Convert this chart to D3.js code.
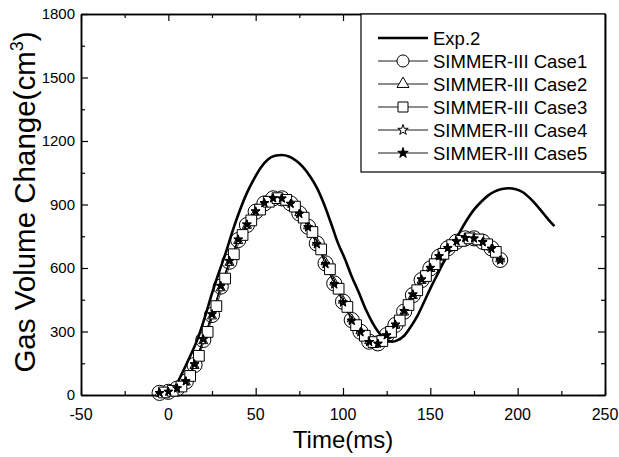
<!DOCTYPE html>
<html>
<head>
<meta charset="utf-8">
<script src="https://cdn.jsdelivr.net/npm/d3@7"></script>
<style>
  body { margin: 0; background: #fff; }
  svg { display: block; font-family: "Liberation Sans", Arial, sans-serif; }
</style>
</head>
<body>
<svg id="chart" width="619" height="457"></svg>
<script>
// Exp.2 measured curve (ms, cm3)
const expTime = [-5, 0, 4, 8, 12, 17, 21, 25, 29, 33, 37, 41, 45, 49, 53, 57, 61, 65, 69, 73, 77, 81, 85, 89,
  93, 97, 101, 105, 109, 113, 117, 121, 125, 128, 131, 135, 139, 143, 147, 151, 155, 159, 163, 167, 171,
  175, 179, 183, 187, 191, 195, 199, 203, 207, 211, 215, 219, 221];
const expVol = [0, 5, 40, 105, 175, 270, 370, 480, 580, 675, 780, 874, 955, 1020, 1075, 1113, 1130, 1134,
  1127, 1108, 1078, 1035, 980, 905, 815, 720, 645, 560, 485, 405, 340, 290, 260, 252, 258, 280, 325, 380,
  450, 520, 585, 650, 712, 772, 828, 876, 912, 942, 962, 973, 977, 972, 958, 930, 895, 855, 815, 798];

// SIMMER-III cases, 5 ms output step
const caseTime = [-5, 0, 5, 10, 15, 20, 25, 30, 35, 40, 45, 50, 55, 60, 65, 70, 75, 80, 85, 90, 95, 100,
  105, 110, 115, 120, 125, 130, 135, 140, 145, 150, 155, 160, 165, 170, 175, 180, 185, 190];
const case1Vol = [10, 15, 30, 63, 142, 260, 378, 512, 630, 732, 803, 866, 905, 929, 929, 905, 858, 795,
  716, 622, 527, 441, 354, 299, 252, 244, 283, 331, 394, 472, 543, 598, 653, 693, 724, 740, 740, 724, 693, 638];
const case2Vol = [8, 14, 28, 60, 138, 255, 372, 505, 625, 728, 800, 864, 903, 928, 930, 907, 860, 798,
  720, 628, 532, 446, 358, 302, 255, 246, 280, 328, 390, 468, 540, 596, 650, 692, 722, 738, 742, 726, 697, 642];
const case4Vol = [9, 16, 32, 66, 146, 265, 382, 516, 634, 735, 806, 868, 907, 930, 928, 903, 855, 792,
  712, 618, 522, 437, 350, 296, 250, 242, 282, 333, 397, 476, 547, 601, 656, 695, 726, 742, 739, 722, 690, 635];
const case5Vol = [10, 15, 31, 64, 144, 262, 380, 514, 632, 734, 805, 867, 906, 929, 929, 904, 857, 793,
  714, 620, 525, 439, 352, 298, 251, 243, 282, 332, 396, 474, 545, 600, 655, 694, 725, 741, 740, 723, 692, 637];
const case3Time = [-2.5, 2.5, 7.5, 12.5, 17.5, 22.5, 27.5, 32.5, 37.5, 42.5, 47.5, 52.5, 57.5, 62.5, 67.5,
  72.5, 77.5, 82.5, 87.5, 92.5, 97.5, 102.5, 107.5, 112.5, 117.5, 122.5, 127.5, 132.5, 137.5, 142.5, 147.5,
  152.5, 157.5, 162.5, 167.5, 172.5, 177.5, 182.5, 187.5];
const case3Vol = [12, 20, 40, 90, 185, 298, 420, 550, 665, 756, 825, 876, 913, 930, 922, 890, 838, 770,
  688, 594, 502, 416, 330, 280, 250, 255, 298, 352, 425, 495, 562, 618, 667, 708, 728, 740, 735, 712, 676];

const xMajor = [-50, 0, 50, 100, 150, 200, 250];
const xMinor = [-25, 25, 75, 125, 175, 225];
const yMajor = [0, 300, 600, 900, 1200, 1500, 1800];
const yMinor = [150, 450, 750, 1050, 1350, 1650];

const svg = d3.select('#chart');
const x = d3.scaleLinear().domain([-50, 250]).range([81, 605]);
const y = d3.scaleLinear().domain([0, 1800]).range([395, 14]);

// Axes: ticks point inward on all four sides
function addAxis(axisFn, ticks, scale, size, transform) {
  const a = axisFn(scale).tickValues(ticks).tickSizeInner(-size).tickSizeOuter(0).tickPadding(0).tickFormat('');
  const g = svg.append('g').attr('transform', transform).call(a);
  g.attr('font-size', null).attr('font-family', null);
  g.select('.domain').attr('stroke', '#000').attr('stroke-width', 1.5);
  g.selectAll('.tick line').attr('stroke', '#000').attr('stroke-width', 1.2);
  return g;
}
addAxis(d3.axisBottom, xMajor, x, 7, 'translate(0,395)');
addAxis(d3.axisBottom, xMinor, x, 4, 'translate(0,395)');
addAxis(d3.axisTop, xMajor, x, 7, 'translate(0,14)');
addAxis(d3.axisTop, xMinor, x, 4, 'translate(0,14)');
addAxis(d3.axisLeft, yMajor, y, 7, 'translate(81,0)');
addAxis(d3.axisLeft, yMinor, y, 4, 'translate(81,0)');
addAxis(d3.axisRight, yMajor, y, 7, 'translate(605,0)');
addAxis(d3.axisRight, yMinor, y, 4, 'translate(605,0)');

svg.append('g').selectAll('text')
  .data(xMajor)
  .enter()
  .append('text')
  .attr('x', (d) => x(d))
  .attr('y', 420)
  .attr('text-anchor', 'middle')
  .attr('font-size', 16)
  .text((d) => d);

svg.append('g').selectAll('text')
  .data(yMajor)
  .enter()
  .append('text')
  .attr('x', 75)
  .attr('y', (d) => y(d) + 5)
  .attr('text-anchor', 'end')
  .attr('font-size', 15)
  .text((d) => d);

// Axis titles
svg.append('text')
  .attr('x', 343)
  .attr('y', 448)
  .attr('text-anchor', 'middle')
  .attr('font-size', 24)
  .text('Time(ms)');

const yTitle = svg.append('text')
  .attr('transform', 'translate(35,202) rotate(-90)')
  .attr('text-anchor', 'middle')
  .attr('font-size', 29.5);
yTitle.append('tspan').text('Gas Volume Change(cm');
yTitle.append('tspan').attr('font-size', 18).attr('dy', -12).text('3');
yTitle.append('tspan').attr('dy', 12).text(')');

// Exp.2 curve
const expRows = expTime.map((t, i) => ({ t, v: expVol[i] }));
svg.append('path')
  .datum(expRows)
  .attr('d', d3.line().x((d) => x(d.t)).y((d) => y(d.v)).curve(d3.curveMonotoneX))
  .attr('fill', 'none')
  .attr('stroke', '#000')
  .attr('stroke-width', 2.6)
  .attr('stroke-linejoin', 'round');

// SIMMER-III cases
const cases = [
  { name: 'SIMMER-III Case1', times: caseTime, vals: case1Vol, symbol: d3.symbolCircle, size: 180, fill: 'none', lsize: 115 },
  { name: 'SIMMER-III Case2', times: caseTime, vals: case2Vol, symbol: d3.symbolTriangle, size: 36, fill: '#fff', lsize: 62 },
  { name: 'SIMMER-III Case3', times: case3Time, vals: case3Vol, symbol: d3.symbolSquare, size: 115, fill: '#fff', lsize: 100 },
  { name: 'SIMMER-III Case4', times: caseTime, vals: case4Vol, symbol: d3.symbolStar, size: 24, fill: '#fff', lsize: 34 },
  { name: 'SIMMER-III Case5', times: caseTime, vals: case5Vol, symbol: d3.symbolStar, size: 22, fill: '#000', lsize: 34 },
];

const thinLine = d3.line().x((d) => x(d.t)).y((d) => y(d.v));
cases.forEach((c) => {
  const rows = c.times.map((t, i) => ({ t, v: c.vals[i] }));
  svg.append('path')
    .datum(rows)
    .attr('d', thinLine)
    .attr('fill', 'none')
    .attr('stroke', '#000')
    .attr('stroke-width', 0.8);
});
cases.forEach((c) => {
  const rows = c.times.map((t, i) => ({ t, v: c.vals[i] }));
  svg.append('g').selectAll('path')
    .data(rows)
    .enter()
    .append('path')
    .attr('transform', (d) => `translate(${x(d.t)},${y(d.v)})`)
    .attr('d', d3.symbol().type(c.symbol).size(c.size))
    .attr('fill', c.fill)
    .attr('stroke', '#000')
    .attr('stroke-width', 1);
});

// Legend
const legend = svg.append('g');
legend.append('rect')
  .attr('x', 361).attr('y', 14)
  .attr('width', 244).attr('height', 158)
  .attr('fill', '#fff')
  .attr('stroke', '#000')
  .attr('stroke-width', 1.2);

const legendRows = [{ name: 'Exp.2', exp: true }, ...cases];
legendRows.forEach((r, i) => {
  const cy = 38 + i * 23;
  legend.append('line')
    .attr('x1', 378).attr('x2', 428)
    .attr('y1', cy).attr('y2', cy)
    .attr('stroke', '#000')
    .attr('stroke-width', r.exp ? 2.6 : 0.9);
  if (!r.exp) {
    legend.append('path')
      .attr('transform', `translate(403,${cy})`)
      .attr('d', d3.symbol().type(r.symbol).size(r.lsize))
      .attr('fill', r.fill === 'none' ? '#fff' : r.fill)
      .attr('stroke', '#000')
      .attr('stroke-width', 1);
  }
  legend.append('text')
    .attr('x', 433)
    .attr('y', cy + 6.5)
    .attr('font-size', 18.5)
    .text(r.name);
});
</script>
</body>
</html>
